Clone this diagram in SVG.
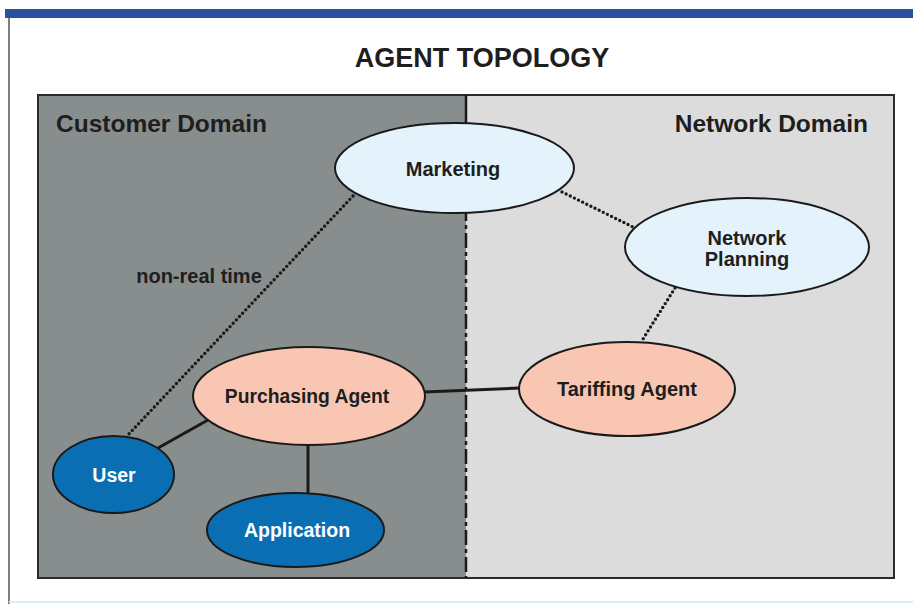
<svg xmlns="http://www.w3.org/2000/svg" width="913" height="604" viewBox="0 0 913 604">
<style>
text{font-family:"Liberation Sans",Arial,sans-serif;font-weight:bold;fill:#1e1e1e;text-anchor:middle}
.title{font-size:27px}
.dom{font-size:24.5px}
.lbl{font-size:20px}
.wt{fill:#ffffff}
.node{stroke:#1a1a1a;stroke-width:2}
.light{fill:#e4f2fb}
.peach{fill:#f8c6b2}
.blue{fill:#0a6fb2}
.solid{stroke:#1a1a1a;stroke-width:3;fill:none}
.dot{stroke:#1a1a1a;stroke-width:3.4;fill:none;stroke-dasharray:0 4.6;stroke-linecap:round}
</style>
<rect x="0" y="0" width="913" height="604" fill="#ffffff"/>
<rect x="5" y="9" width="908" height="9" fill="#2a4f9f"/>
<line x1="9" y1="18" x2="9" y2="604" stroke="#555" stroke-width="1.5"/>
<line x1="9" y1="602" x2="913" y2="602" stroke="#d6eef8" stroke-width="2"/>
<text class="title" x="482" y="67">AGENT TOPOLOGY</text>
<g id="panel">
<rect x="38" y="95" width="428" height="483" fill="#888d8d"/>
<rect x="466" y="95" width="428" height="483" fill="#dcdcdc"/>
<rect x="38" y="95" width="856" height="483" fill="none" stroke="#2a2a2a" stroke-width="2"/>
<line x1="466" y1="95" x2="466" y2="125" stroke="#1a1a1a" stroke-width="2.5"/>
<line x1="466" y1="125" x2="466" y2="578" stroke="#1a1a1a" stroke-width="2.5" stroke-dasharray="15 4 4 4"/>
<text class="dom" x="56" y="132" style="text-anchor:start">Customer Domain</text>
<text class="dom" x="868" y="132" style="text-anchor:end">Network Domain</text>
</g>
<g id="connectors">
<line class="dot" x1="353" y1="196" x2="127" y2="436"/>
<line class="dot" x1="562" y1="192" x2="633" y2="227"/>
<line class="dot" x1="675" y1="288" x2="643" y2="339"/>
<line class="solid" x1="424" y1="392" x2="520" y2="388"/>
<line class="solid" x1="158" y1="448" x2="208" y2="420"/>
<line class="solid" x1="308" y1="444" x2="308" y2="494"/>
<text class="lbl" x="199" y="283">non-real time</text>
</g>
<g id="marketing">
<ellipse class="node light" cx="454.5" cy="168" rx="119.5" ry="45"/>
<text class="lbl" x="453" y="176">Marketing</text>
</g>
<g id="network-planning">
<ellipse class="node light" cx="747" cy="247" rx="122" ry="49"/>
<text class="lbl" x="747" y="245">Network</text>
<text class="lbl" x="747" y="266">Planning</text>
</g>
<g id="purchasing-agent">
<ellipse class="node peach" cx="309" cy="396" rx="116" ry="49"/>
<text class="lbl" x="307" y="403" style="font-size:19.3px">Purchasing Agent</text>
</g>
<g id="tariffing-agent">
<ellipse class="node peach" cx="627" cy="389" rx="108" ry="47"/>
<text class="lbl" x="627" y="396">Tariffing Agent</text>
</g>
<g id="user">
<ellipse class="node blue" cx="113.5" cy="474.5" rx="60.5" ry="38.5"/>
<text class="lbl wt" x="114" y="482" style="font-size:19.5px">User</text>
</g>
<g id="application">
<ellipse class="node blue" cx="295.5" cy="530" rx="88.5" ry="37"/>
<text class="lbl wt" x="297" y="537" style="font-size:19.5px">Application</text>
</g>
</svg>
